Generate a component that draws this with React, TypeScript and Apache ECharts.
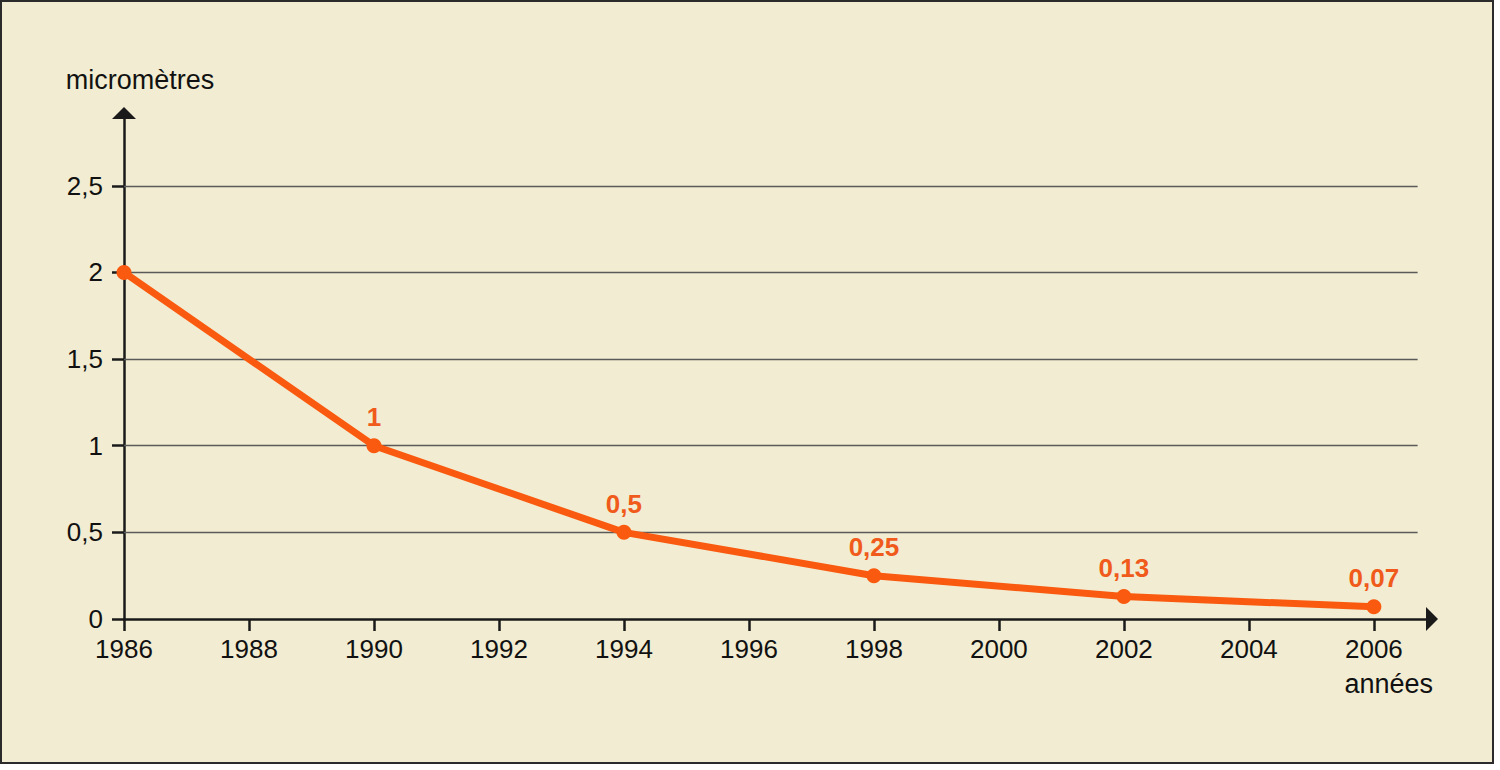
import React, { useEffect, useRef } from "react";
import * as echarts from "echarts";

const years = [1986, 1990, 1994, 1998, 2002, 2006];
const values = [2, 1, 0.5, 0.25, 0.13, 0.07];
const valueLabels = ["", "1", "0,5", "0,25", "0,13", "0,07"];
const xTicks = [1986, 1988, 1990, 1992, 1994, 1996, 1998, 2000, 2002, 2004, 2006];
const yTicks = [0, 0.5, 1, 1.5, 2, 2.5];
const yTickLabels = ["0", "0,5", "1", "1,5", "2", "2,5"];
const gridValues = [0.5, 1, 1.5, 2, 2.5];
const xName = "années";
const yName = "micromètres";

const FONT = "'Liberation Sans', Arial, Helvetica, sans-serif";
const ORANGE = "#FA5A0F";
const AXIS = "#1a1a1a";

export default function App() {
  const ref = useRef<HTMLDivElement>(null);
  useEffect(() => {
    if (!ref.current) return;
    const chart = echarts.init(ref.current, undefined, { renderer: "svg" });
    chart.setOption({
      animation: false,
      backgroundColor: "transparent",
      textStyle: { fontFamily: FONT },
      grid: { left: 124, right: 68, top: 113, bottom: 151, containLabel: false },
      xAxis: {
        type: "value",
        min: 1986,
        max: 2006.93,
        name: xName,
        nameLocation: "end",
        nameGap: 1,
        nameTextStyle: {
          fontFamily: FONT,
          fontSize: 27,
          color: "#111",
          align: "right",
          verticalAlign: "top",
          padding: [51, 0, 0, 0],
        },
        axisLine: {
          show: true,
          symbol: ["none", "triangle"],
          symbolSize: [24, 12],
          lineStyle: { color: AXIS, width: 2.5 },
        },
        axisTick: {
          show: true,
          length: 12,
          inside: false,
          customValues: xTicks,
          lineStyle: { color: AXIS, width: 2.5 },
        },
        axisLabel: {
          customValues: xTicks,
          formatter: (v: number) => String(v),
          margin: 17,
          fontFamily: FONT,
          fontSize: 26,
          color: "#111",
        },
        splitLine: { show: false },
      },
      yAxis: {
        type: "value",
        min: 0,
        max: 2.92,
        name: yName,
        nameLocation: "end",
        nameGap: 20,
        nameTextStyle: {
          fontFamily: FONT,
          fontSize: 27,
          color: "#111",
          align: "center",
          verticalAlign: "bottom",
          padding: [0, 0, 0, 32],
        },
        axisLine: {
          show: true,
          symbol: ["none", "triangle"],
          symbolSize: [24, 12],
          lineStyle: { color: AXIS, width: 2.5 },
        },
        axisTick: {
          show: true,
          length: 12,
          inside: false,
          customValues: yTicks,
          lineStyle: { color: AXIS, width: 2.5 },
        },
        axisLabel: {
          customValues: yTicks,
          formatter: (v: number) => yTickLabels[yTicks.indexOf(v)] ?? "",
          margin: 21,
          fontFamily: FONT,
          fontSize: 26,
          color: "#111",
        },
        splitLine: { show: false },
      },
      series: [
        {
          type: "line",
          data: [],
          z: 1,
          silent: true,
          markLine: {
            silent: true,
            symbol: ["none", "none"],
            label: { show: false },
            lineStyle: { color: "#5a5a5a", width: 1.3, type: "solid" },
            data: gridValues.map((v) => [{ coord: [1986, v] }, { coord: [2006.7, v] }]),
          },
        },
        {
          type: "line",
          z: 5,
          data: years.map((y, i) => [y, values[i]]),
          symbol: "circle",
          symbolSize: 15,
          showSymbol: true,
          lineStyle: { color: ORANGE, width: 7 },
          itemStyle: { color: ORANGE },
          label: {
            show: true,
            position: "top",
            distance: 8,
            formatter: (p: any) => valueLabels[p.dataIndex],
            fontFamily: FONT,
            fontWeight: "bold",
            fontSize: 26,
            color: "#F05A1A",
          },
        },
      ],
    });
    return () => chart.dispose();
  }, []);

  return (
    <div style={{ position: "absolute", left: 0, top: 0, width: 1500, height: 770, background: "#ffffff" }}>
      <div
        style={{
          position: "absolute",
          left: 0,
          top: 0,
          width: 1494,
          height: 764,
          boxSizing: "border-box",
          border: "2px solid #2b2b2b",
          background: "#F2EDD2",
        }}
      />
      <div ref={ref} style={{ position: "absolute", left: 0, top: 0, width: 1500, height: 770 }} />
    </div>
  );
}
